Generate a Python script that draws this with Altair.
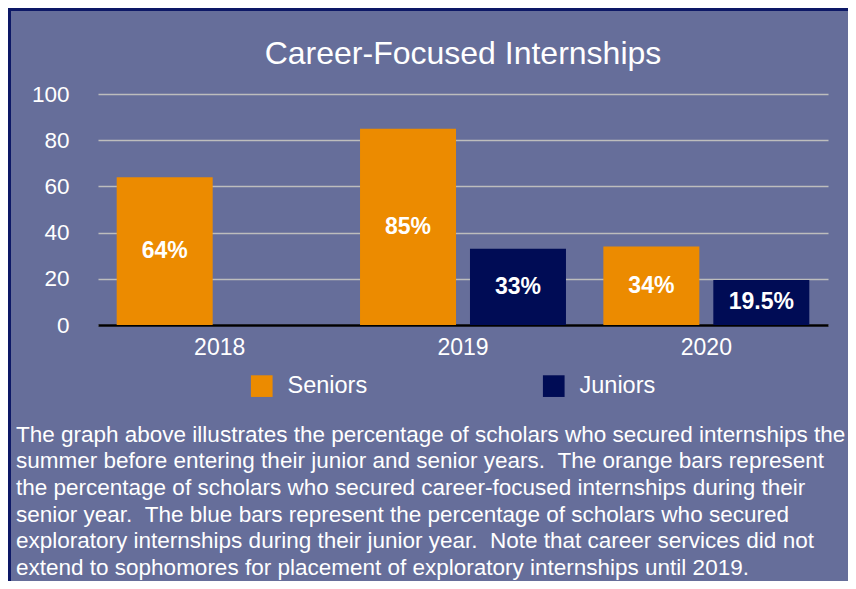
import altair as alt
import pandas as pd

# ---- data ----
years = ["2018", "2019", "2020"]
groups = ["Seniors", "Juniors"]
seniors = [64, 85, 34]
juniors = [None, 33, 19.5]          # no junior placement in 2018
colors = ["#ec8b00", "#000c55"]
title_text = "Career-Focused Internships"
y_ticks = [0, 20, 40, 60, 80, 100]
caption_lines = [
    "The graph above illustrates the percentage of scholars who secured internships the",
    "summer before entering their junior and senior years. \u00a0The orange bars represent",
    "the percentage of scholars who secured career-focused internships during their",
    "senior year. \u00a0The blue bars represent the percentage of scholars who secured",
    "exploratory internships during their junior year. \u00a0Note that career services did not",
    "extend to sophomores for placement of exploratory internships until 2019.",
]

rows = []
for i, yr in enumerate(years):
    for g, vals in zip(groups, [seniors, juniors]):
        if vals[i] is not None:
            rows.append({"year": yr, "group": g, "value": vals[i]})
df = pd.DataFrame(rows)
one = pd.DataFrame({"k": [0]})

FONT = "Liberation Sans"
BG = "#666e9a"
BORDER = "#0d1866"

x_enc = alt.X(
    "year:N",
    sort=years,
    scale=alt.Scale(paddingInner=0, paddingOuter=0),
    axis=alt.Axis(
        title=None, labelAngle=0, labelFontSize=23, labelColor="white",
        labelFont=FONT, ticks=False, tickSize=0, labelPadding=11,
        domainColor="black", domainWidth=2.5, grid=False,
    ),
)
xoff_enc = alt.XOffset(
    "group:N",
    sort=groups,
    scale=alt.Scale(domain=groups, paddingInner=0.127, paddingOuter=0.17),
)
y_scale = alt.Scale(domain=[0, 100], nice=False)

bars = alt.Chart(df).mark_bar().encode(
    x=x_enc,
    xOffset=xoff_enc,
    y=alt.Y(
        "value:Q",
        scale=y_scale,
        axis=alt.Axis(
            title=None, values=y_ticks, labelFontSize=22.5, labelColor="white",
            labelFont=FONT, ticks=False, tickSize=0, labelPadding=29,
            domain=False, grid=True, gridColor="#bdbdbd", gridWidth=1.5,
        ),
    ),
    color=alt.Color(
        "group:N",
        sort=groups,
        scale=alt.Scale(domain=groups, range=colors),
        legend=alt.Legend(
            orient="none", legendX=152, legendY=280, direction="horizontal",
            title=None, symbolType="square", symbolSize=470,
            symbolStrokeWidth=0, symbolOpacity=1, labelFontSize=23.5,
            labelColor="white", labelFont=FONT, labelOffset=14,
            columnPadding=174, padding=0,
        ),
    ),
)

labels = alt.Chart(df).transform_calculate(
    mid="datum.value / 2", lab="datum.value + '%'"
).mark_text(
    color="white", fontWeight="bold", fontSize=23, font=FONT,
    align="center", baseline="middle",
).encode(
    x=alt.X("year:N", sort=years),
    xOffset=alt.XOffset("group:N", sort=groups),
    y=alt.Y("mid:Q", scale=y_scale),
    text="lab:N",
)

caption = alt.Chart(one).mark_text(
    text=caption_lines, align="left", baseline="alphabetic",
    fontSize=22.5, lineHeight=26.7, color="white", font=FONT,
).encode(x=alt.value(-82), y=alt.value(347.7))

title_mark = alt.Chart(one).mark_text(
    text=title_text, align="center", baseline="alphabetic",
    fontSize=32, color="white", font=FONT,
).encode(x=alt.value(365), y=alt.value(-30))

frame_top = alt.Chart(one).mark_rule(color=BORDER, strokeWidth=3).encode(
    x=alt.value(-90), x2=alt.value(760), y=alt.value(-84.5)
)
frame_left = alt.Chart(one).mark_rule(color=BORDER, strokeWidth=3).encode(
    x=alt.value(-88.5), y=alt.value(-86), y2=alt.value(500)
)

chart = alt.layer(frame_top, frame_left, bars, labels, caption, title_mark).properties(
    width=730,
    height=231,
    padding={"left": 90, "top": 86, "right": 20, "bottom": 256},
    autosize=alt.AutoSizeParams(type="none"),
).configure(background=BG).configure_view(stroke="transparent")

chart.save("out.html", embed_options={"renderer": "svg", "actions": False})
